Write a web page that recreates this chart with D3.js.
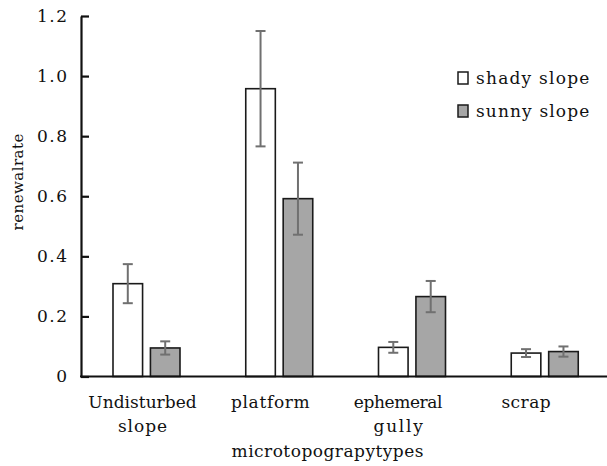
<!DOCTYPE html>
<html>
<head>
<meta charset="utf-8">
<script src="https://cdn.jsdelivr.net/npm/d3@7"></script>
<style>
  body { margin: 0; background: #fff; }
  text { font-family: "DejaVu Serif", "Liberation Serif", serif; fill: #111; }
</style>
</head>
<body>
<script>
'use strict';

var width = 607,
    height = 466;

var categories = ['Undisturbed slope', 'platform', 'ephemeral gully', 'scrap'];
var series = ['shady slope', 'sunny slope'];
var shadyValues = [0.309, 0.958, 0.097, 0.078];
var shadyErrors = [0.065, 0.192, 0.018, 0.013];
var sunnyValues = [0.095, 0.592, 0.266, 0.083];
var sunnyErrors = [0.022, 0.12, 0.052, 0.017];
var yTicks = [0, 0.2, 0.4, 0.6, 0.8, 1.0, 1.2];

var fills = { 'shady slope': '#ffffff', 'sunny slope': '#a6a6a6' };

// the original uses a half-width (monospaced) latin face, so spread the text evenly
var mono = function(sel, charW) {
  sel.attr('textLength', function() { return this.textContent.length * charW; })
     .attr('lengthAdjust', 'spacing');
};

var rows = [];
categories.forEach(function(c, i) {
  rows.push({ cat: c, s: 'shady slope', v: shadyValues[i], e: shadyErrors[i] });
  rows.push({ cat: c, s: 'sunny slope', v: sunnyValues[i], e: sunnyErrors[i] });
});

var svg = d3.select('body').append('svg')
    .attr('width', width)
    .attr('height', height);

var x0 = d3.scaleBand().domain(categories).range([80, 611]);
var x1 = d3.scaleBand().domain(series).range([33, 100]).paddingInner(0.21);
var y = d3.scaleLinear().domain([0, 1.2]).range([376.5, 16]);

// labels in the original sit a bit left of the bar groups
var xLabel = d3.scalePoint().domain(categories).range([142.5, 526]);

// bars
svg.append('g').selectAll('rect')
    .data(rows)
  .enter().append('rect')
    .attr('x', function(d) { return x0(d.cat) + x1(d.s); })
    .attr('y', function(d) { return y(d.v); })
    .attr('width', x1.bandwidth())
    .attr('height', function(d) { return y(0) - y(d.v); })
    .attr('fill', function(d) { return fills[d.s]; })
    .attr('stroke', '#1a1a1a')
    .attr('stroke-width', 1.6);

// error bars
var err = svg.append('g')
    .attr('stroke', '#707070')
    .attr('stroke-width', 2)
  .selectAll('g')
    .data(rows)
  .enter().append('g')
    .attr('transform', function(d) {
      return 'translate(' + (x0(d.cat) + x1(d.s) + x1.bandwidth() / 2) + ',0)';
    });

err.append('line')
    .attr('y1', function(d) { return y(d.v + d.e); })
    .attr('y2', function(d) { return y(d.v - d.e); });
err.append('line')
    .attr('x1', -5).attr('x2', 5)
    .attr('y1', function(d) { return y(d.v + d.e); })
    .attr('y2', function(d) { return y(d.v + d.e); });
err.append('line')
    .attr('x1', -5).attr('x2', 5)
    .attr('y1', function(d) { return y(d.v - d.e); })
    .attr('y2', function(d) { return y(d.v - d.e); });

// y axis, ticks pointing inward
var yAxis = d3.axisLeft(y)
    .tickValues(yTicks)
    .tickSize(-8)
    .tickSizeOuter(0)
    .tickPadding(14)
    .tickFormat(function(d) { return d === 0 ? '0' : d.toFixed(1); });

var gy = svg.append('g')
    .attr('transform', 'translate(81,0)')
    .call(yAxis);
gy.select('.domain').attr('stroke', '#111').attr('stroke-width', 2.2);
gy.selectAll('.tick line').attr('stroke', '#111').attr('stroke-width', 2.2);
gy.selectAll('.tick text')
    .style('font-family', '"DejaVu Serif", serif')
    .style('font-size', '17px')
    .attr('fill', '#111')
    .call(mono, 10);

// x axis line
svg.append('line')
    .attr('x1', 80).attr('x2', 607)
    .attr('y1', y(0)).attr('y2', y(0))
    .attr('stroke', '#111')
    .attr('stroke-width', 2.2);

// category labels, wrapped where the original wraps
var catLines = {
  'Undisturbed slope': ['Undisturbed', 'slope'],
  'platform': ['platform'],
  'ephemeral gully': ['ephemeral', 'gully'],
  'scrap': ['scrap']
};
var lab = svg.append('g').selectAll('text')
    .data(categories)
  .enter().append('text')
    .attr('text-anchor', 'middle')
    .attr('x', function(d) { return xLabel(d); })
    .attr('y', 408)
    .style('font-size', '17px');
lab.selectAll('tspan')
    .data(function(d) { return catLines[d].map(function(t) { return { t: t, c: d }; }); })
  .enter().append('tspan')
    .attr('x', function(d) { return xLabel(d.c); })
    .attr('dy', function(d, i) { return i === 0 ? 0 : 24; })
    .text(function(d) { return d.t; })
    .call(mono, 9.85);

// axis titles
svg.append('text')
    .attr('text-anchor', 'middle')
    .attr('x', 327.5)
    .attr('y', 457)
    .style('font-size', '17px')
    .text('microtopograpytypes')
    .call(mono, 10.1);

svg.append('text')
    .attr('text-anchor', 'middle')
    .attr('transform', 'translate(23,182) rotate(-90)')
    .style('font-size', '15px')
    .text('renewalrate')
    .call(mono, 8.8);

// legend
var legend = svg.append('g').selectAll('g')
    .data(series)
  .enter().append('g')
    .attr('transform', function(d, i) { return 'translate(458,' + (72 + i * 33) + ')'; });
legend.append('rect')
    .attr('width', 10)
    .attr('height', 12)
    .attr('fill', function(d) { return fills[d]; })
    .attr('stroke', '#1a1a1a')
    .attr('stroke-width', 1.5);
legend.append('text')
    .attr('x', 18)
    .attr('y', 11.5)
    .style('font-size', '17px')
    .text(function(d) { return d; })
    .call(mono, 10.3);
</script>
</body>
</html>
